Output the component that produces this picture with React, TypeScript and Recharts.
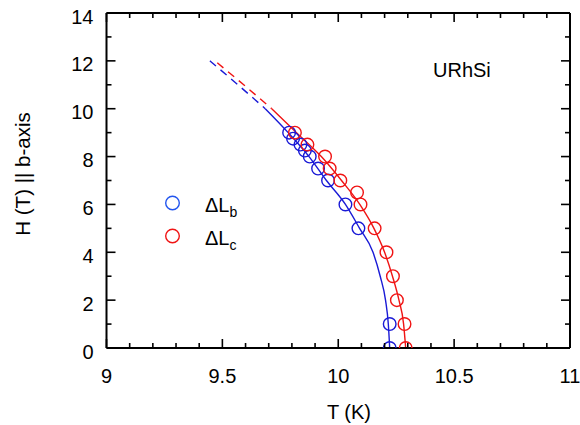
import { ComposedChart, Line, Scatter, XAxis, YAxis } from 'recharts';

// measured points (T in K, H in T)
const blueT = [10.222, 10.222, 10.087, 10.031, 9.956, 9.913, 9.877, 9.856, 9.837, 9.805, 9.788];
const blueH = [0, 1, 5, 6, 7, 7.5, 8, 8.25, 8.5, 8.75, 9];
const redT = [10.291, 10.286, 10.253, 10.236, 10.208, 10.157, 10.096, 10.081, 10.009, 9.963, 9.943, 9.867, 9.813];
const redH = [0, 1, 2, 3, 4, 5, 6, 6.5, 7, 7.5, 8, 8.5, 9];

// phase boundary guides
const blueFitT = [9.685, 9.784, 9.874, 9.949, 10.031, 10.092, 10.15, 10.181, 10.204, 10.216, 10.222];
const blueFitH = [10, 9, 8, 7, 6, 5, 4, 3, 2, 1, 0];
const blueDashT = [9.446, 9.567, 9.685];
const blueDashH = [12, 11, 10];
const redFitT = [9.713, 9.82, 9.927, 10.014, 10.093, 10.154, 10.2, 10.234, 10.262, 10.282, 10.291];
const redFitH = [10, 9, 8, 7, 6, 5, 4, 3, 2, 1, 0];
const redDashT = [9.468, 9.592, 9.713];
const redDashH = [12, 11, 10];

const xMajor = [9, 9.5, 10, 10.5, 11];
const yMajor = [0, 2, 4, 6, 8, 10, 12, 14];
const xTicks = Array.from({ length: 21 }, (_, i) => Math.round((9 + i * 0.1) * 10) / 10);
const yTicks = Array.from({ length: 15 }, (_, i) => i);

const BLUE = '#1a1ad6';
const RED = '#f01414';
const FONT = '"Liberation Sans", Arial, sans-serif';

const pts = (t: number[], h: number[]) => t.map((v, i) => ({ t: v, h: h[i] }));
const isXMajor = (v: number) => xMajor.some((m) => Math.abs(m - v) < 1e-6);
const isYMajor = (v: number) => yMajor.includes(v);

const BottomTick = ({ x, y, payload }: any) => {
  const major = isXMajor(payload.value);
  return (
    <g>
      <line x1={x} x2={x} y1={y} y2={y - (major ? 9 : 5)} stroke="#000" strokeWidth={1.6} />
      {major && (
        <text x={x} y={y + 35} textAnchor="middle" fontSize={20} fontFamily={FONT} fill="#000">
          {payload.value}
        </text>
      )}
    </g>
  );
};

const TopTick = ({ x, y, payload }: any) => {
  const major = isXMajor(payload.value);
  return <line x1={x} x2={x} y1={y} y2={y + (major ? 9 : 5)} stroke="#000" strokeWidth={1.6} />;
};

const LeftTick = ({ x, y, payload }: any) => {
  const major = isYMajor(payload.value);
  return (
    <g>
      <line x1={x} x2={x + (major ? 9 : 5)} y1={y} y2={y} stroke="#000" strokeWidth={1.6} />
      {major && (
        <text x={x - 13} y={y + 10.5} textAnchor="end" fontSize={20} fontFamily={FONT} fill="#000">
          {payload.value}
        </text>
      )}
    </g>
  );
};

const RightTick = ({ x, y, payload }: any) => {
  const major = isYMajor(payload.value);
  return <line x1={x} x2={x - (major ? 9 : 5)} y1={y} y2={y} stroke="#000" strokeWidth={1.6} />;
};

const ring = (color: string) => (p: any) =>
  <circle cx={p.cx} cy={p.cy} r={6.3} fill="none" stroke={color} strokeWidth={1.4} />;

export default function App() {
  const axisLine = { stroke: '#000', strokeWidth: 2 };
  return (
    <div style={{ position: 'absolute', left: 0, top: 0, width: 580, height: 425, background: '#fff' }}>
      <ComposedChart width={580} height={425} margin={{ top: 12, right: 9, bottom: 0, left: 0 }}>
        <XAxis
          xAxisId="b"
          type="number"
          dataKey="t"
          domain={[9, 11]}
          ticks={xTicks}
          interval={0}
          allowDataOverflow
          height={77}
          tickSize={0}
          tickMargin={0}
          axisLine={axisLine}
          tick={<BottomTick />}
        />
        <XAxis
          xAxisId="top"
          orientation="top"
          type="number"
          dataKey="t"
          domain={[9, 11]}
          ticks={xTicks}
          interval={0}
          allowDataOverflow
          height={1}
          tickSize={0}
          tickMargin={0}
          axisLine={axisLine}
          tick={<TopTick />}
        />
        <YAxis
          yAxisId="l"
          type="number"
          dataKey="h"
          domain={[0, 14]}
          ticks={yTicks}
          interval={0}
          allowDataOverflow
          width={106.5}
          tickSize={0}
          tickMargin={0}
          axisLine={axisLine}
          tick={<LeftTick />}
        />
        <YAxis
          yAxisId="r"
          orientation="right"
          type="number"
          dataKey="h"
          domain={[0, 14]}
          ticks={yTicks}
          interval={0}
          allowDataOverflow
          width={1}
          tickSize={0}
          tickMargin={0}
          axisLine={axisLine}
          tick={<RightTick />}
        />
        {/* invisible series so the frame axes get a domain */}
        <Line xAxisId="top" yAxisId="r" data={pts(redFitT, redFitH)} dataKey="h" stroke="none"
          dot={false} activeDot={false} isAnimationActive={false} />
        <Line xAxisId="b" yAxisId="l" data={pts(blueDashT, blueDashH)} dataKey="h" type="monotone"
          stroke={BLUE} strokeWidth={1.4} strokeDasharray="8 6" dot={false} isAnimationActive={false} />
        <Line xAxisId="b" yAxisId="l" data={pts(redDashT, redDashH)} dataKey="h" type="monotone"
          stroke={RED} strokeWidth={1.4} strokeDasharray="8 6" strokeDashoffset={-3} dot={false} isAnimationActive={false} />
        <Line xAxisId="b" yAxisId="l" data={pts(blueFitT, blueFitH)} dataKey="h" type="monotone"
          stroke={BLUE} strokeWidth={1.4} dot={false} isAnimationActive={false} />
        <Line xAxisId="b" yAxisId="l" data={pts(redFitT, redFitH)} dataKey="h" type="monotone"
          stroke={RED} strokeWidth={1.4} dot={false} isAnimationActive={false} />
        <Scatter xAxisId="b" yAxisId="l" data={pts(blueT, blueH)} dataKey="h" shape={ring(BLUE)} isAnimationActive={false} />
        <Scatter xAxisId="b" yAxisId="l" data={pts(redT, redH)} dataKey="h" shape={ring(RED)} isAnimationActive={false} />
      </ComposedChart>
      <svg width={580} height={425} style={{ position: 'absolute', left: 0, top: 0, pointerEvents: 'none' }}>
        <g fontFamily={FONT} fill="#000">
          <text x={433} y={77} fontSize={20}>URhSi</text>
          <text x={349} y={419} fontSize={20} textAnchor="middle">T (K)</text>
          <text transform="translate(29.5,174) rotate(-90)" fontSize={20.5} textAnchor="middle">H (T) || b-axis</text>
          <circle cx={172.5} cy={203} r={6.8} fill="none" stroke="#2255ee" strokeWidth={1.4} />
          <circle cx={172.5} cy={236} r={6.8} fill="none" stroke={RED} strokeWidth={1.4} />
          <text x={205} y={212} fontSize={20}>
            ΔL<tspan fontSize={14} dy={5}>b</tspan>
          </text>
          <text x={205} y={245} fontSize={20}>
            ΔL<tspan fontSize={14} dy={5}>c</tspan>
          </text>
        </g>
      </svg>
    </div>
  );
}
